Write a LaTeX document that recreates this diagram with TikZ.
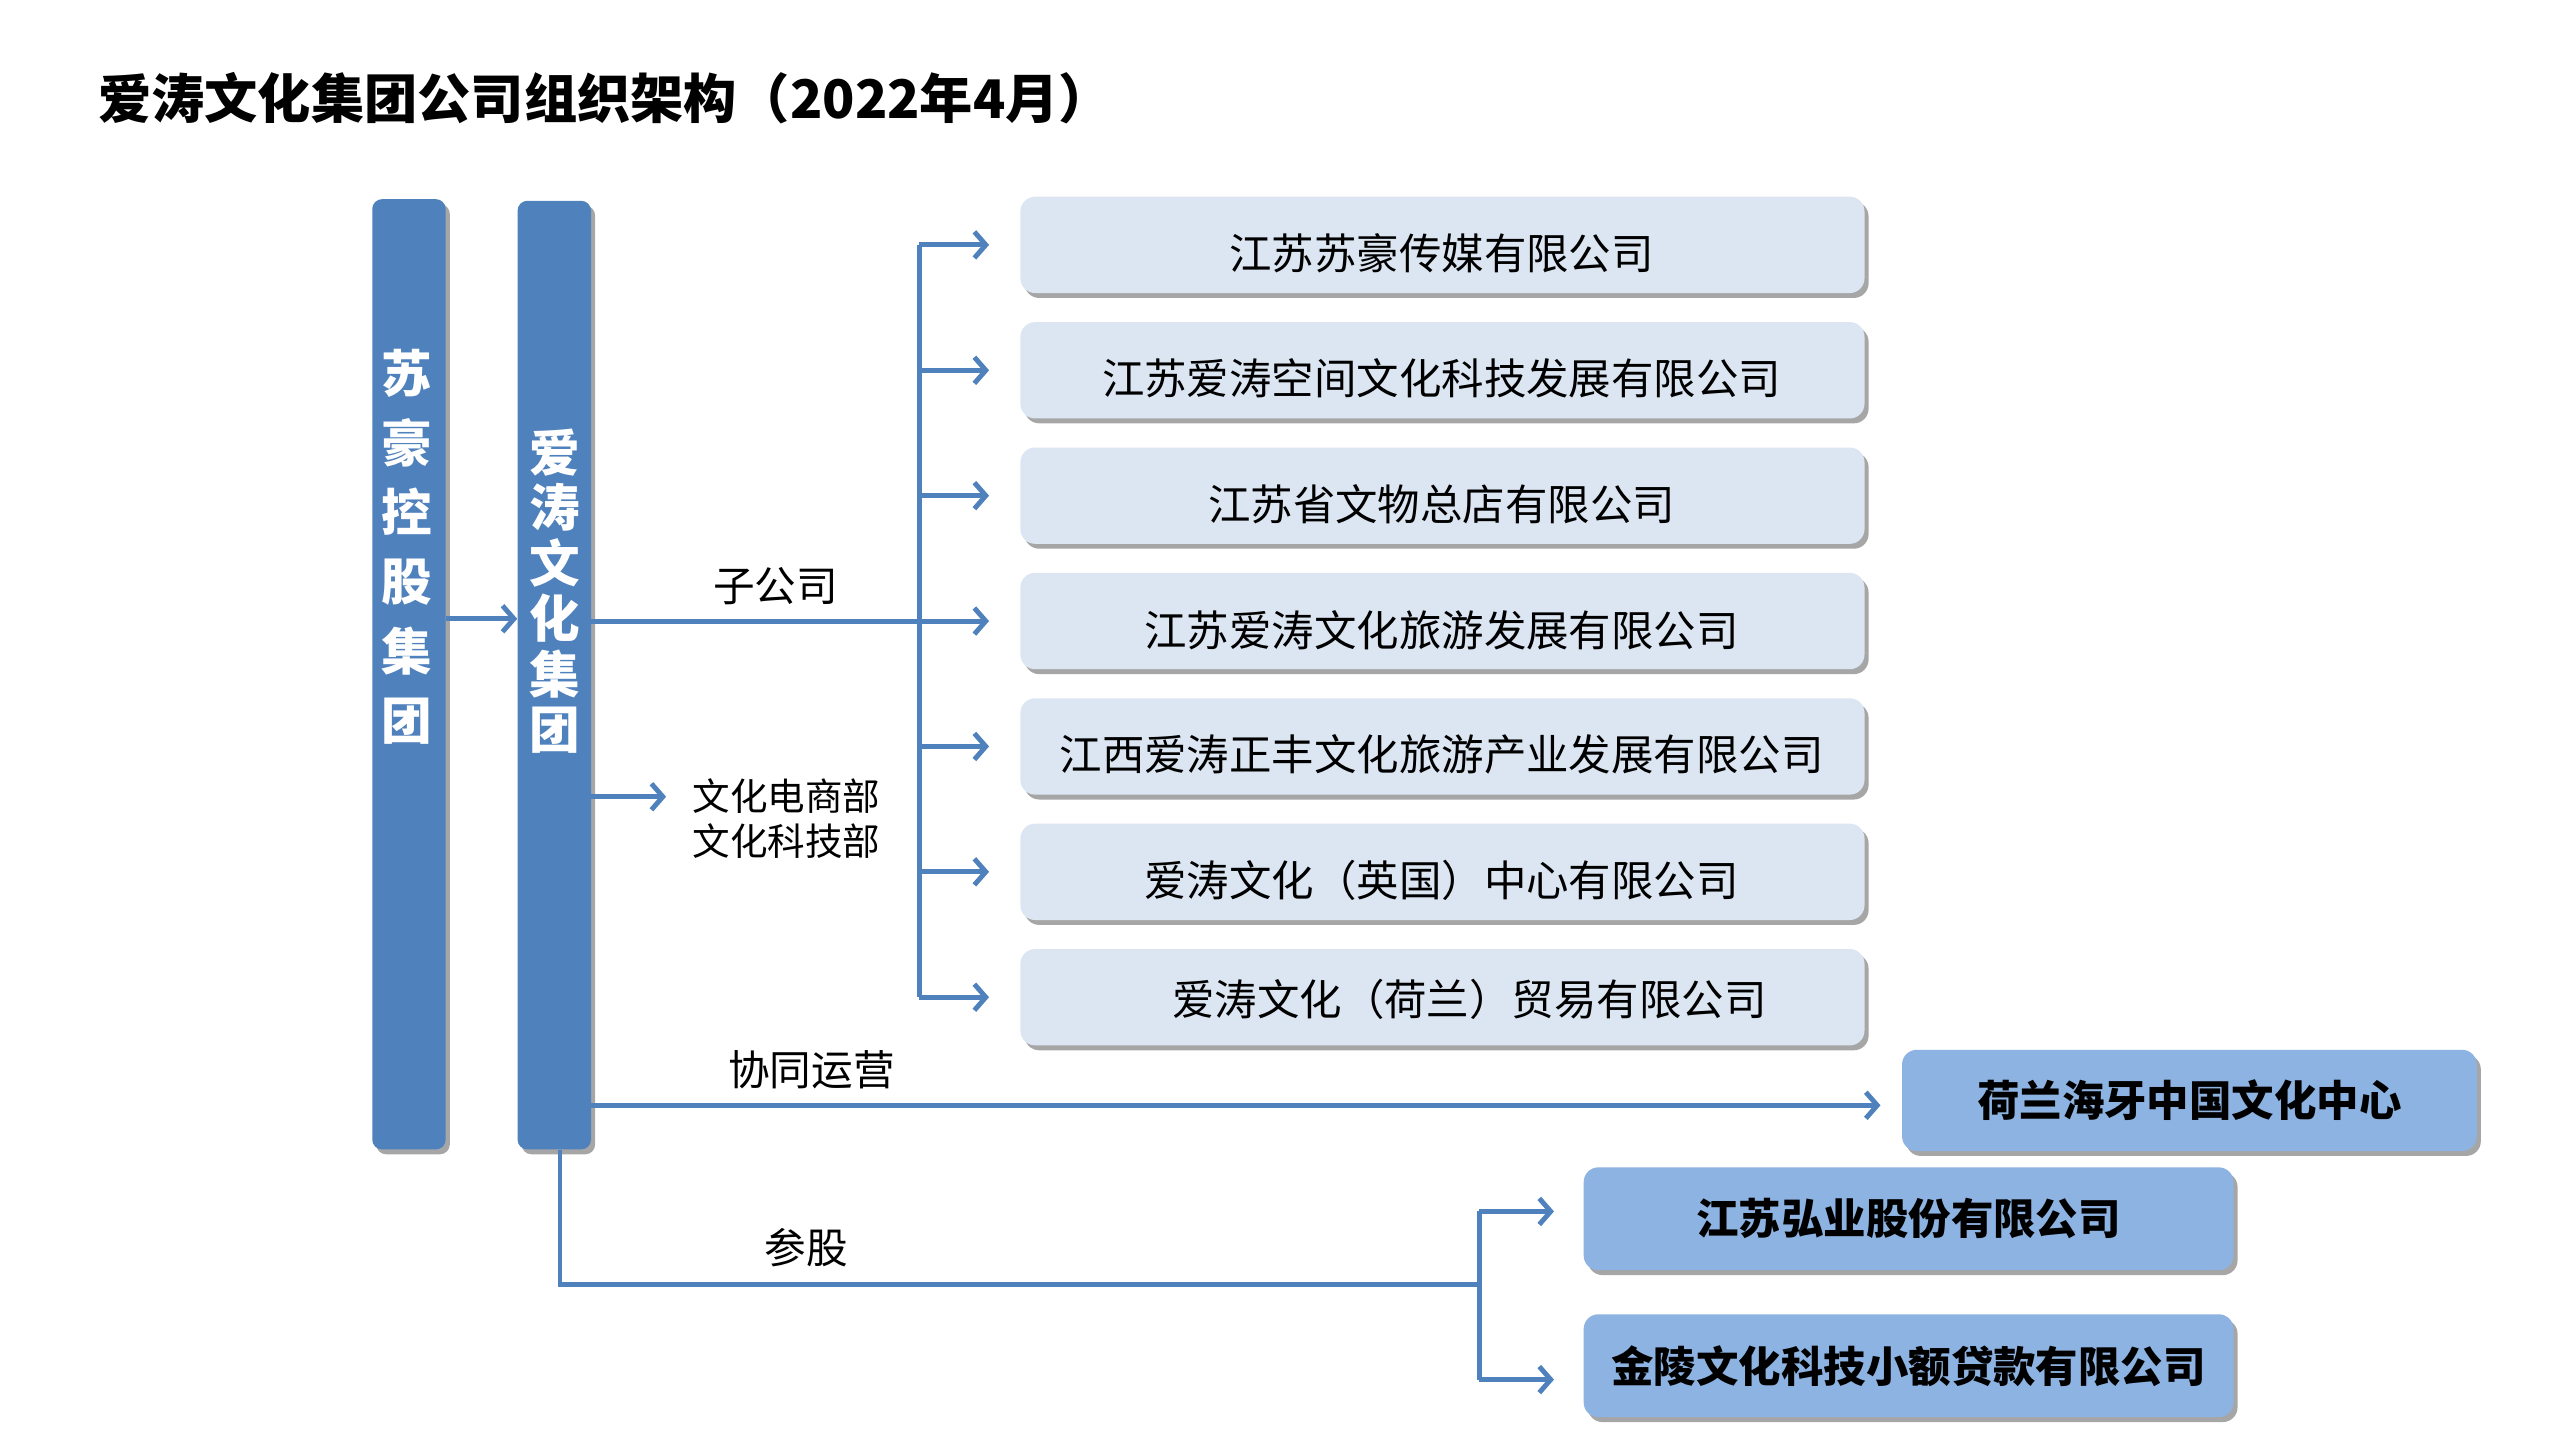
\documentclass[tikz,border=0pt]{standalone}
\usepackage{fontspec}
\setmainfont{Noto Sans CJK SC}
\usetikzlibrary{arrows.meta,shadows}
\definecolor{barblue}{HTML}{4F81BD}
\definecolor{lightbox}{HTML}{DCE6F2}
\definecolor{midbox}{HTML}{8DB3E2}
\tikzset{
  conn/.style={draw=barblue, line width=3pt},
  arr/.style={conn, -{Straight Barb[length=7pt,width=16pt]}},
  shad/.style={drop shadow={shadow xshift=2.5pt, shadow yshift=-3pt, fill=black, opacity=0.35}},
  barbox/.style={fill=barblue, rounded corners=6pt, minimum width=45pt, minimum height=582pt, inner sep=0pt, shad},
  bartext/.style={text=white, font=\bfseries\fontsize{31}{#1}\selectfont, align=center, inner sep=0pt},
  subbox/.style={fill=lightbox, rounded corners=9pt, minimum width=517pt, minimum height=59pt, inner sep=0pt, shad},
  subtext/.style={font=\fontsize{26}{30}\selectfont, inner sep=0pt},
  otherbox/.style={fill=midbox, rounded corners=9pt, minimum height=62pt, inner sep=0pt, shad, font=\bfseries\fontsize{26}{30}\selectfont},
  lbl/.style={font=\fontsize{25.5}{30}\selectfont, inner sep=0pt},
}
\begin{document}
\begin{tikzpicture}[x=1pt, y=-1pt]
\useasboundingbox[fill=white] (0,0) rectangle (1568,882);

% title
\node[anchor=west, inner sep=0pt, font=\bfseries\fontsize{32.6}{36}\selectfont] (title) at (60,60) {爱涛文化集团公司组织架构（2022年4月）};

% bars
\node[barbox] (bar1) at (250.5,413) {};
\node[barbox, minimum height=581pt] (bar2) at (339.5,413.5) {};
\node[bartext=42.5] (bar1t) at (249,335) {苏\\豪\\控\\股\\集\\团};
\node[bartext=34] (bar2t) at (340,362) {爱\\涛\\文\\化\\集\\团};

% subsidiaries
\foreach \i in {0,...,6}{
  \node[subbox] (s\i) at (883.5,{150+76.8*\i}) {};
  \coordinate (b\i) at (563,{150+76.8*\i});
}
\node[subtext] (s0t) at (883,155) {江苏苏豪传媒有限公司};
\node[subtext] (s1t) at (883,232) {江苏爱涛空间文化科技发展有限公司};
\node[subtext] (s2t) at (883,309) {江苏省文物总店有限公司};
\node[subtext] (s3t) at (883,386) {江苏爱涛文化旅游发展有限公司};
\node[subtext] (s4t) at (883,462) {江西爱涛正丰文化旅游产业发展有限公司};
\node[subtext] (s5t) at (883,539) {爱涛文化（英国）中心有限公司};
\node[subtext] (s6t) at (900,612) {爱涛文化（荷兰）贸易有限公司};

% other boxes
\node[otherbox, minimum width=352pt] (hl) at (1341,674) {荷兰海牙中国文化中心};
\node[otherbox, minimum width=398pt, minimum height=63pt] (hy) at (1169,746.5) {江苏弘业股份有限公司};
\node[otherbox, minimum width=398pt, minimum height=63pt] (jl) at (1169,836.5) {金陵文化科技小额贷款有限公司};

% bar1 -> bar2
\draw[arr] (bar1.east |- 0,379) -- (bar2.west |- 0,379);

% subsidiary bus
\draw[conn] (bar2.east |- b3) -- (b3);
\draw[conn] (b0) -- (b6);
\foreach \i in {0,...,6}{
  \draw[arr, shorten >=19pt] (b\i) -- (s\i.west |- b\i);
}
\node[lbl] (zgs) at (475,359) {子公司};

% departments
\node[anchor=west, align=left, inner sep=0pt, font=\fontsize{23}{27.5}\selectfont] (dept) at (424,501.5) {文化电商部\\文化科技部};
\draw[arr] (bar2.east |- 0,488) -- ([xshift=-16pt]dept.west |- 0,488);

% cooperative operation
\node[lbl] (xt) at (497,655) {协同运营};
\draw[arr, shorten >=13pt] (bar2.east |- 0,677) -- (hl.west |- 0,677);

% equity participation
\coordinate (c1) at (343,787);
\coordinate (c2) at (906,787);
\coordinate (c3) at (906,742);
\coordinate (c4) at (906,845);
\draw[conn] (bar2.south -| c1) -- (c1) -- (c2);
\draw[conn] (c3) -- (c4);
\draw[arr, shorten >=18pt] (c3) -- (hy.west |- c3);
\draw[arr, shorten >=18pt] (c4) -- (jl.west |- c4);
\node[lbl] (cg) at (494,764) {参股};
\end{tikzpicture}
\end{document}
